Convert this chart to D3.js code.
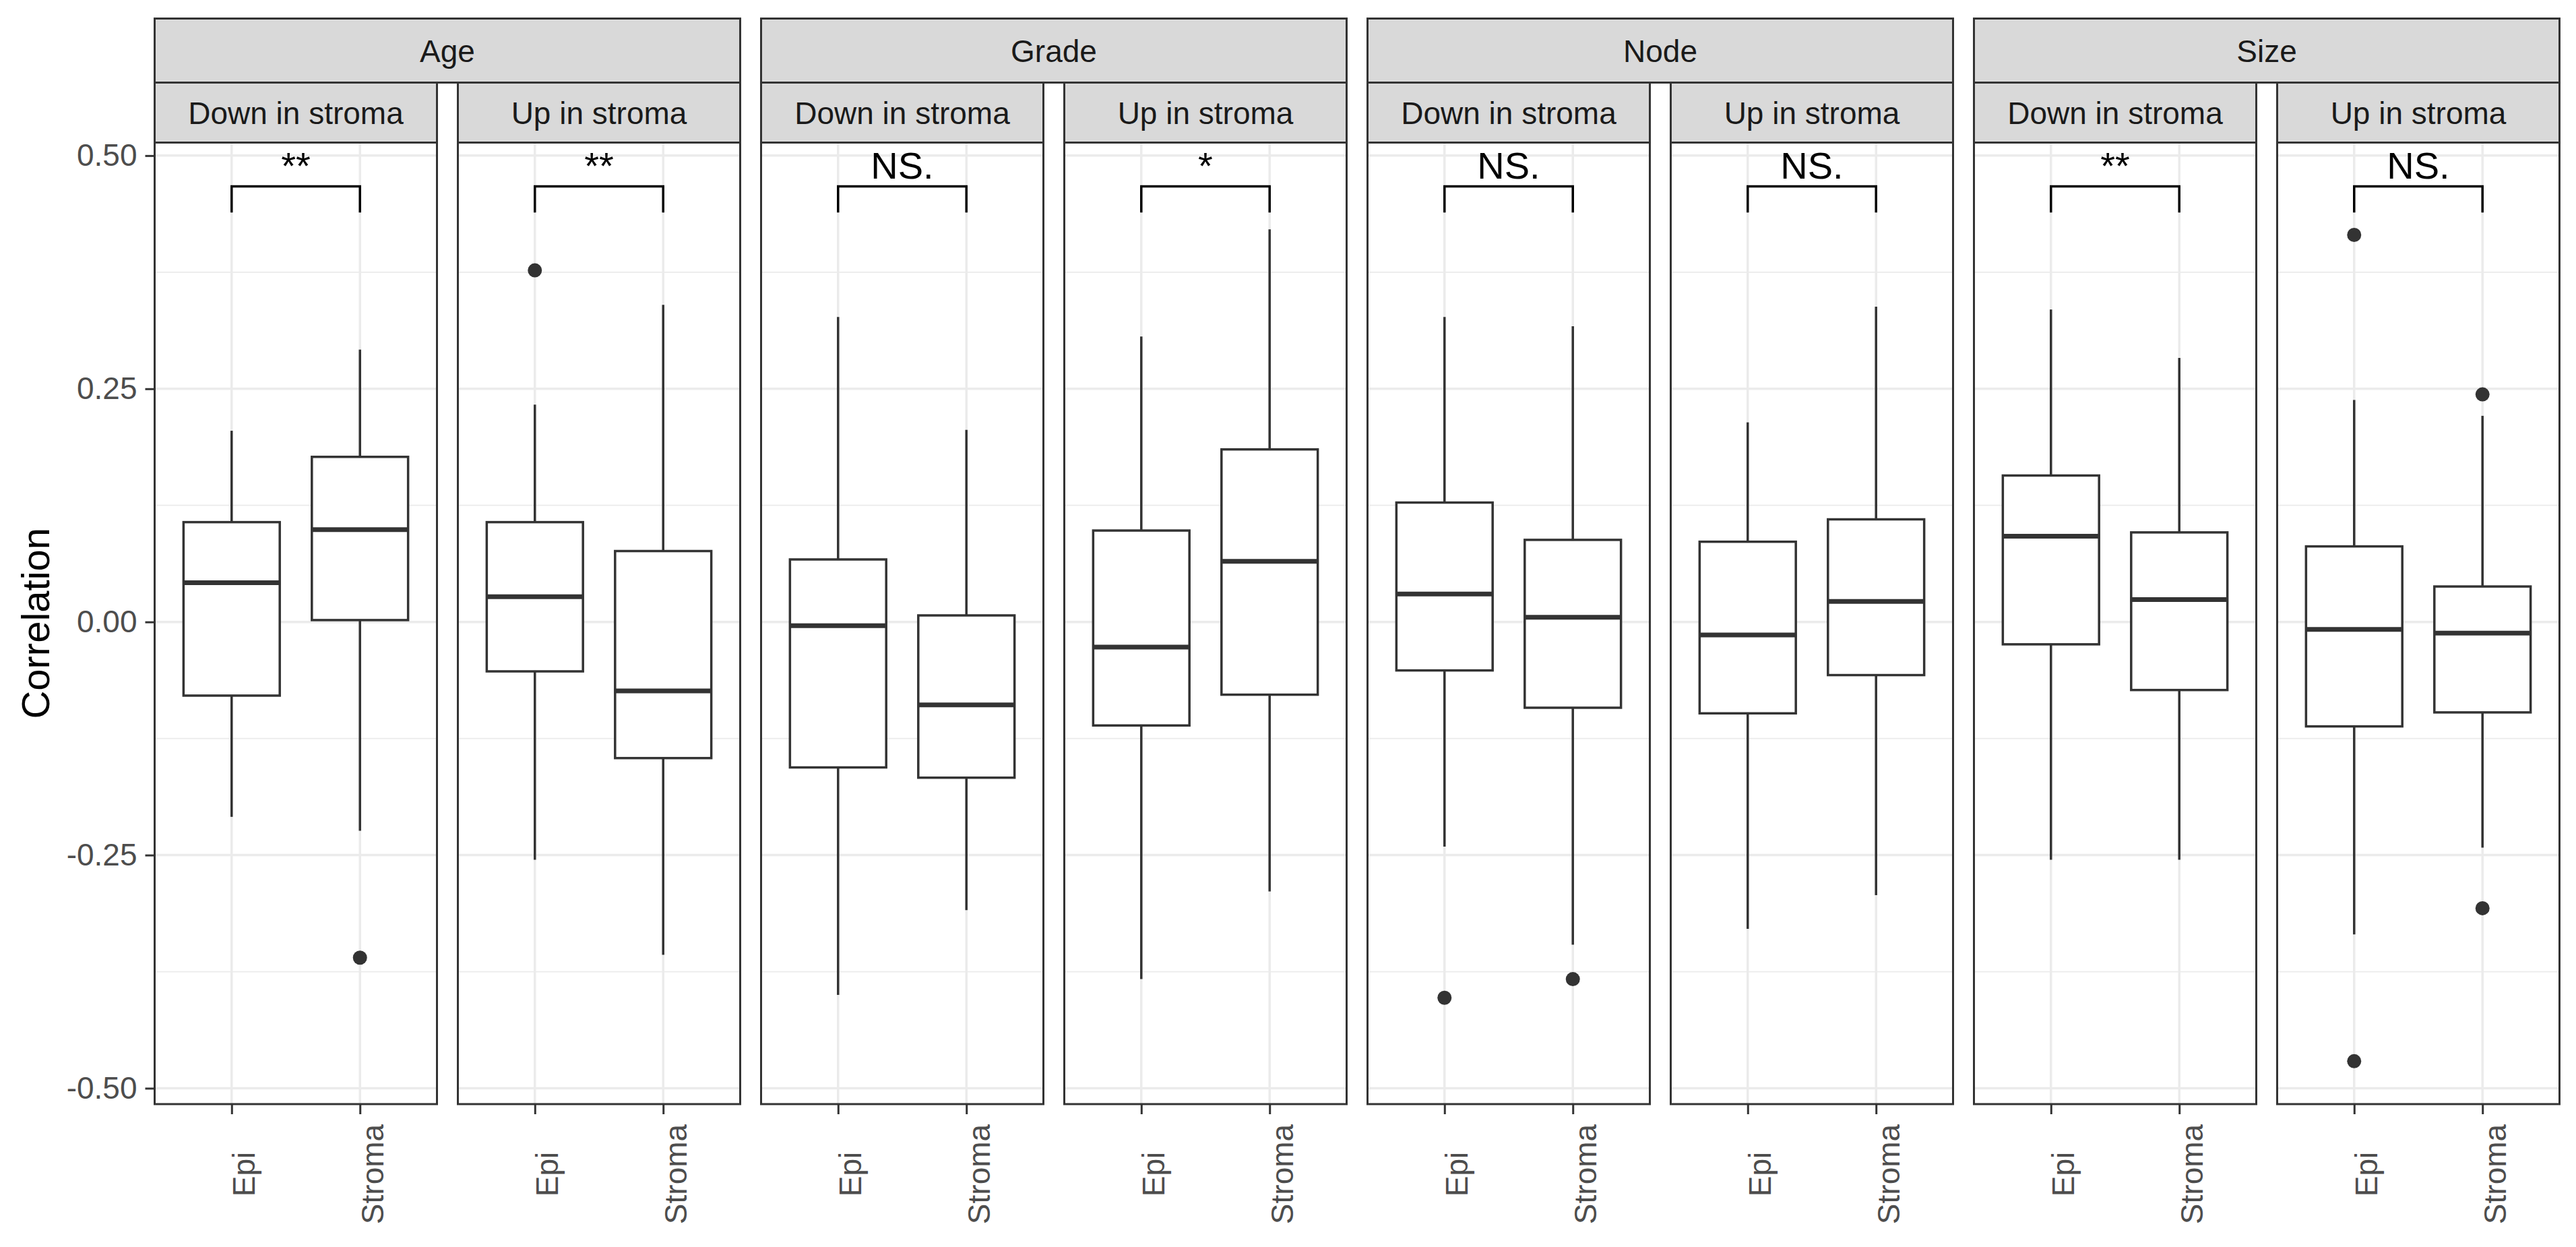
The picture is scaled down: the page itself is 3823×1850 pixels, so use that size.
<!DOCTYPE html>
<html>
<head>
<meta charset="utf-8">
<script src="https://cdn.jsdelivr.net/npm/d3@7"></script>
<style>
body { margin: 0; background: #ffffff; }
svg { display: block; font-family: "Liberation Sans", Arial, Helvetica, sans-serif; }
</style>
</head>
<body>
<script>
// facet labels
const groups = ["Age", "Grade", "Node", "Size"];
const directions = ["Down in stroma", "Up in stroma"];
const tissues = ["Epi", "Stroma"];
const signif_labels = ["**", "**", "NS.", "*", "NS.", "NS.", "**", "NS."];

// box statistics, one entry per box: panel order (Age down, Age up, Grade down, ...), Epi then Stroma
const whisker_low  = [-0.209, -0.224, -0.255, -0.357, -0.400, -0.309, -0.383, -0.289,
                      -0.241, -0.346, -0.329, -0.293, -0.255, -0.255, -0.335, -0.242];
const q1           = [-0.079,  0.002, -0.053, -0.146, -0.156, -0.167, -0.111, -0.078,
                      -0.052, -0.092, -0.098, -0.057, -0.024, -0.073, -0.112, -0.097];
const median       = [ 0.042,  0.099,  0.027, -0.074, -0.004, -0.089, -0.027,  0.065,
                       0.030,  0.005, -0.014,  0.022,  0.092,  0.024, -0.008, -0.012];
const q3           = [ 0.107,  0.177,  0.107,  0.076,  0.067,  0.007,  0.098,  0.185,
                       0.128,  0.088,  0.086,  0.110,  0.157,  0.096,  0.081,  0.038];
const whisker_high = [ 0.205,  0.292,  0.233,  0.340,  0.327,  0.206,  0.306,  0.421,
                       0.327,  0.317,  0.214,  0.338,  0.335,  0.283,  0.238,  0.221];
const outlier_values = [[], [-0.360], [0.377], [], [], [], [], [],
                        [-0.403], [-0.383], [], [], [], [], [0.415, -0.471], [0.244, -0.307]];

// comparison bracket
const bracket_top = 0.467;
const bracket_tip = 0.439;
const label_y = 0.475;

const y_ticks = [-0.5, -0.25, 0, 0.25, 0.5];
const y_minor_ticks = [-0.375, -0.125, 0.125, 0.375];

let width = 3823, height = 1850;
let panel_left = 229.5, panel_width = 419, panel_gap = 31;
let panel_top = 211.5, panel_bottom = 1638;
let strip1_top = 27.5, strip2_top = 122.5;

let svg = d3.select("body").append("svg")
    .attr("width", width)
    .attr("height", height);

svg.append("rect").attr("width", width).attr("height", height).style("fill", "#ffffff");

let y = d3.scaleLinear().domain([-0.517, 0.514]).range([panel_bottom, panel_top]);

function panel_x(i){
    return panel_left + i * (panel_width + panel_gap);
}

// group strips (Age, Grade, ...)
groups.forEach(function(name, g){
    let x0 = panel_x(2 * g);
    let x1 = panel_x(2 * g + 1) + panel_width;
    svg.append("rect")
        .attr("x", x0).attr("y", strip1_top)
        .attr("width", x1 - x0).attr("height", strip2_top - strip1_top)
        .style("fill", "#d9d9d9").style("stroke", "#333333").style("stroke-width", 3);
    svg.append("text")
        .attr("x", (x0 + x1) / 2)
        .attr("y", (strip1_top + strip2_top) / 2 + 16.5)
        .attr("text-anchor", "middle")
        .style("font-size", "46px")
        .style("fill", "#1a1a1a")
        .text(name);
});

for(let i = 0; i < groups.length * directions.length; i++){
    let panel = svg.append("g").attr("transform", "translate(" + panel_x(i) + ",0)");
    let x = d3.scalePoint().domain(tissues).range([0, panel_width]).padding(0.6);
    let box_width = 0.75 * x.step();

    // sub strip
    panel.append("rect")
        .attr("x", 0).attr("y", strip2_top)
        .attr("width", panel_width).attr("height", panel_top - strip2_top)
        .style("fill", "#d9d9d9").style("stroke", "#333333").style("stroke-width", 3);
    panel.append("text")
        .attr("x", panel_width / 2)
        .attr("y", (strip2_top + panel_top) / 2 + 16.5)
        .attr("text-anchor", "middle")
        .style("font-size", "46px")
        .style("fill", "#1a1a1a")
        .text(directions[i % 2]);

    // grid
    panel.append("g").selectAll("line")
        .data(y_minor_ticks)
        .enter().append("line")
        .attr("x1", 0).attr("x2", panel_width)
        .attr("y1", d => y(d)).attr("y2", d => y(d))
        .style("stroke", "#ebebeb").style("stroke-width", 1.8);
    panel.append("g").selectAll("line")
        .data(y_ticks)
        .enter().append("line")
        .attr("x1", 0).attr("x2", panel_width)
        .attr("y1", d => y(d)).attr("y2", d => y(d))
        .style("stroke", "#ebebeb").style("stroke-width", 3.5);
    panel.append("g").selectAll("line")
        .data(tissues)
        .enter().append("line")
        .attr("x1", d => x(d)).attr("x2", d => x(d))
        .attr("y1", panel_top).attr("y2", panel_bottom)
        .style("stroke", "#ebebeb").style("stroke-width", 3.5);

    // boxes
    tissues.forEach(function(t, k){
        let b = 2 * i + k;
        let cx = x(t);
        let box = panel.append("g");
        box.append("line")
            .attr("x1", cx).attr("x2", cx)
            .attr("y1", y(q3[b])).attr("y2", y(whisker_high[b]))
            .style("stroke", "#333333").style("stroke-width", 3.5);
        box.append("line")
            .attr("x1", cx).attr("x2", cx)
            .attr("y1", y(q1[b])).attr("y2", y(whisker_low[b]))
            .style("stroke", "#333333").style("stroke-width", 3.5);
        box.append("rect")
            .attr("x", cx - box_width / 2).attr("y", y(q3[b]))
            .attr("width", box_width).attr("height", y(q1[b]) - y(q3[b]))
            .style("fill", "#ffffff").style("stroke", "#333333").style("stroke-width", 3.5);
        box.append("line")
            .attr("x1", cx - box_width / 2).attr("x2", cx + box_width / 2)
            .attr("y1", y(median[b])).attr("y2", y(median[b]))
            .style("stroke", "#333333").style("stroke-width", 7);
        box.selectAll("circle")
            .data(outlier_values[b])
            .enter().append("circle")
            .attr("cx", cx).attr("cy", d => y(d))
            .attr("r", 10.5)
            .style("fill", "#333333");
    });

    // significance bracket
    let xa = x(tissues[0]), xb = x(tissues[1]);
    panel.append("path")
        .attr("d", "M" + xa + "," + y(bracket_tip) + "V" + y(bracket_top) + "H" + xb + "V" + y(bracket_tip))
        .style("fill", "none").style("stroke", "#000000").style("stroke-width", 3.5);
    panel.append("text")
        .attr("x", (xa + xb) / 2)
        .attr("y", y(label_y))
        .attr("text-anchor", "middle")
        .style("font-size", "56px")
        .style("fill", "#000000")
        .text(signif_labels[i]);

    // panel border
    panel.append("rect")
        .attr("x", 0).attr("y", panel_top)
        .attr("width", panel_width).attr("height", panel_bottom - panel_top)
        .style("fill", "none").style("stroke", "#333333").style("stroke-width", 3);

    // x axis
    let xAxis = panel.append("g")
        .attr("transform", "translate(0," + panel_bottom + ")")
        .call(d3.axisBottom(x).tickSize(15).tickSizeOuter(0));
    xAxis.select(".domain").remove();
    xAxis.selectAll(".tick line").style("stroke", "#333333").style("stroke-width", 3);
    xAxis.selectAll(".tick text")
        .attr("x", 0).attr("y", 0).attr("dy", 0)
        .attr("transform", "translate(34," + (1742 - panel_bottom) + ") rotate(-90)")
        .attr("text-anchor", "middle")
        .style("font-family", "Liberation Sans, Arial, sans-serif")
        .style("font-size", "46px")
        .style("fill", "#4d4d4d");
}

// y axis
let yAxis = svg.append("g")
    .attr("transform", "translate(" + panel_left + ",0)")
    .call(d3.axisLeft(y).tickValues(y_ticks).tickSize(14).tickPadding(12)
            .tickFormat(d => d.toFixed(2)));
yAxis.select(".domain").remove();
yAxis.selectAll(".tick line").style("stroke", "#333333").style("stroke-width", 3);
yAxis.selectAll(".tick text")
    .style("font-family", "Liberation Sans, Arial, sans-serif")
    .style("font-size", "46px")
    .style("fill", "#4d4d4d");

svg.append("text")
    .attr("transform", "translate(73," + ((panel_top + panel_bottom) / 2) + ") rotate(-90)")
    .attr("text-anchor", "middle")
    .style("font-size", "58px")
    .style("fill", "#000000")
    .text("Correlation");
</script>
</body>
</html>
